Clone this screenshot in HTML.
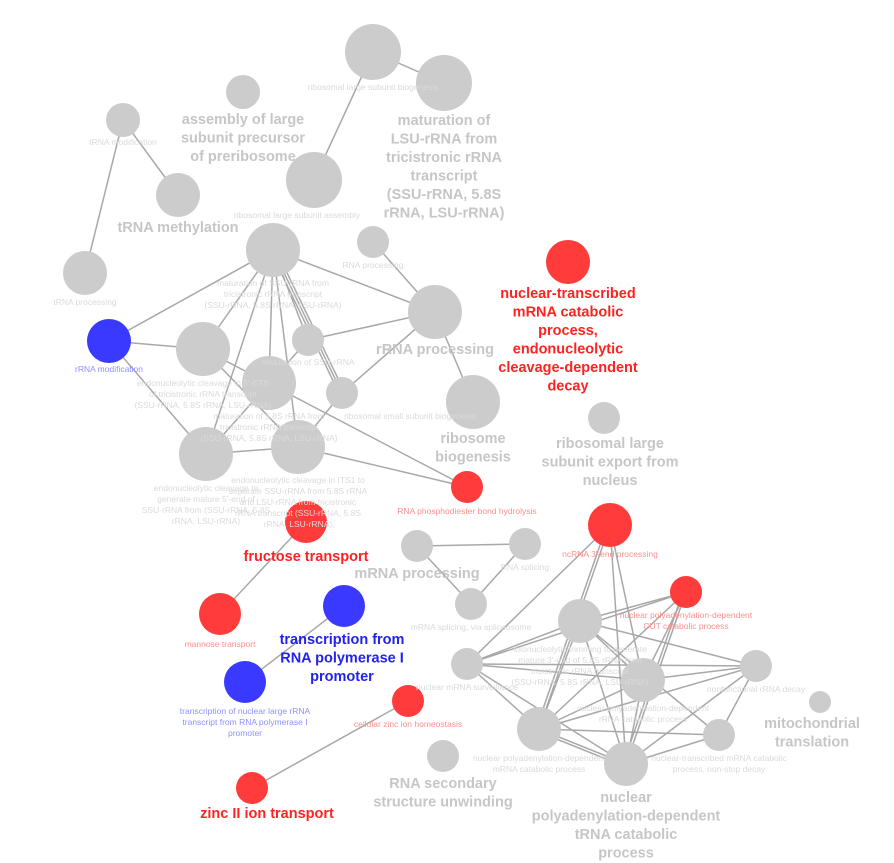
<!DOCTYPE html>
<html><head><meta charset="utf-8"><style>
html,body{margin:0;padding:0;background:#fff;}
svg{display:block;}
.e{stroke:#999;stroke-width:1.5;fill:none;opacity:0.85}
.g{fill:#cccccc}
.r{fill:#ff3b3b}
.b{fill:#3939ff}
text{font-family:"Liberation Sans",sans-serif;text-anchor:middle;}
.s{font-size:8.5px;fill:#dadada}
.sr{font-size:8.5px;fill:#ff8f8f}
.sb{font-size:8.5px;fill:#8f8fff}
.L{font-size:14.5px;font-weight:bold;fill:#c6c6c6}
.LR{font-size:14.5px;font-weight:bold;fill:#ff2222}
.LB{font-size:14.5px;font-weight:bold;fill:#2222ee}
</style></head><body>
<svg width="894" height="863" viewBox="0 0 894 863">
<g class="e">
<line x1="373" y1="52" x2="444" y2="83"/>
<line x1="373" y1="52" x2="314" y2="180"/>
<line x1="123" y1="120" x2="85" y2="273"/>
<line x1="123" y1="120" x2="178" y2="195"/>
<line x1="273" y1="250" x2="435" y2="312"/>
<line x1="273" y1="250" x2="109" y2="341"/>
<line x1="273" y1="250" x2="203" y2="349"/>
<line x1="273" y1="250" x2="206" y2="454"/>
<line x1="273" y1="250" x2="269" y2="383"/>
<line x1="273" y1="250" x2="298" y2="447"/>
<line x1="273" y1="250" x2="308" y2="340"/>
<line x1="273" y1="250" x2="342" y2="393"/>
<line x1="276" y1="250" x2="345" y2="393"/>
<line x1="270" y1="250" x2="339" y2="393"/>
<line x1="373" y1="242" x2="435" y2="312"/>
<line x1="308" y1="340" x2="435" y2="312"/>
<line x1="342" y1="393" x2="435" y2="312"/>
<line x1="435" y1="312" x2="473" y2="402"/>
<line x1="109" y1="341" x2="203" y2="349"/>
<line x1="109" y1="341" x2="206" y2="454"/>
<line x1="203" y1="349" x2="298" y2="447"/>
<line x1="203" y1="349" x2="467" y2="487"/>
<line x1="206" y1="454" x2="298" y2="447"/>
<line x1="206" y1="454" x2="308" y2="340"/>
<line x1="298" y1="447" x2="467" y2="487"/>
<line x1="298" y1="447" x2="342" y2="393"/>
<line x1="306" y1="522" x2="220" y2="614"/>
<line x1="245" y1="682" x2="344" y2="606"/>
<line x1="408" y1="701" x2="252" y2="788"/>
<line x1="417" y1="546" x2="525" y2="544"/>
<line x1="417" y1="546" x2="471" y2="604"/>
<line x1="525" y1="544" x2="471" y2="604"/>
<line x1="610" y1="525" x2="467" y2="664"/>
<line x1="610" y1="525" x2="539" y2="729"/>
<line x1="607" y1="525" x2="536" y2="729"/>
<line x1="610" y1="525" x2="626" y2="764"/>
<line x1="610" y1="525" x2="643" y2="680"/>
<line x1="686" y1="592" x2="467" y2="664"/>
<line x1="686" y1="592" x2="580" y2="621"/>
<line x1="686" y1="592" x2="539" y2="729"/>
<line x1="686" y1="592" x2="626" y2="764"/>
<line x1="683" y1="592" x2="623" y2="764"/>
<line x1="686" y1="592" x2="643" y2="680"/>
<line x1="580" y1="621" x2="756" y2="666"/>
<line x1="580" y1="621" x2="719" y2="735"/>
<line x1="580" y1="621" x2="626" y2="764"/>
<line x1="580" y1="621" x2="539" y2="729"/>
<line x1="580" y1="621" x2="643" y2="680"/>
<line x1="467" y1="664" x2="643" y2="680"/>
<line x1="467" y1="664" x2="756" y2="666"/>
<line x1="467" y1="664" x2="539" y2="729"/>
<line x1="467" y1="664" x2="626" y2="764"/>
<line x1="467" y1="664" x2="580" y2="621"/>
<line x1="643" y1="680" x2="756" y2="666"/>
<line x1="643" y1="680" x2="626" y2="764"/>
<line x1="643" y1="680" x2="539" y2="729"/>
<line x1="756" y1="666" x2="539" y2="729"/>
<line x1="756" y1="666" x2="626" y2="764"/>
<line x1="756" y1="666" x2="719" y2="735"/>
<line x1="539" y1="729" x2="719" y2="735"/>
<line x1="539" y1="729" x2="626" y2="764"/>
<line x1="539" y1="732" x2="626" y2="767"/>
<line x1="719" y1="735" x2="626" y2="764"/>
</g>
<g>
<circle class="g" cx="373" cy="52" r="28"/>
<circle class="g" cx="444" cy="83" r="28"/>
<circle class="g" cx="243" cy="92" r="17"/>
<circle class="g" cx="123" cy="120" r="17"/>
<circle class="g" cx="178" cy="195" r="22"/>
<circle class="g" cx="314" cy="180" r="28"/>
<circle class="g" cx="85" cy="273" r="22"/>
<circle class="g" cx="273" cy="250" r="27"/>
<circle class="g" cx="373" cy="242" r="16"/>
<circle class="g" cx="435" cy="312" r="27"/>
<circle class="g" cx="473" cy="402" r="27"/>
<circle class="b" cx="109" cy="341" r="22"/>
<circle class="g" cx="203" cy="349" r="27"/>
<circle class="g" cx="308" cy="340" r="16"/>
<circle class="g" cx="269" cy="383" r="27"/>
<circle class="g" cx="342" cy="393" r="16"/>
<circle class="g" cx="206" cy="454" r="27"/>
<circle class="g" cx="298" cy="447" r="27"/>
<circle class="r" cx="467" cy="487" r="16"/>
<circle class="r" cx="306" cy="522" r="21"/>
<circle class="r" cx="568" cy="262" r="22"/>
<circle class="g" cx="604" cy="418" r="16"/>
<circle class="g" cx="417" cy="546" r="16"/>
<circle class="g" cx="525" cy="544" r="16"/>
<circle class="g" cx="471" cy="604" r="16"/>
<circle class="r" cx="610" cy="525" r="22"/>
<circle class="r" cx="686" cy="592" r="16"/>
<circle class="g" cx="580" cy="621" r="22"/>
<circle class="g" cx="467" cy="664" r="16"/>
<circle class="g" cx="643" cy="680" r="22"/>
<circle class="g" cx="756" cy="666" r="16"/>
<circle class="g" cx="539" cy="729" r="22"/>
<circle class="g" cx="719" cy="735" r="16"/>
<circle class="g" cx="626" cy="764" r="22"/>
<circle class="g" cx="820" cy="702" r="11"/>
<circle class="b" cx="344" cy="606" r="21"/>
<circle class="r" cx="220" cy="614" r="21"/>
<circle class="b" cx="245" cy="682" r="21"/>
<circle class="r" cx="408" cy="701" r="16"/>
<circle class="r" cx="252" cy="788" r="16"/>
<circle class="g" cx="443" cy="756" r="16"/>
</g>
<!-- small labels -->
<text class="s" x="373" y="90">ribosomal large subunit biogenesis</text>
<text class="s" x="123" y="145">tRNA modification</text>
<text class="s" x="297" y="218">ribosomal large subunit assembly</text>
<text class="s" x="85" y="305">tRNA processing</text>
<text class="s" x="373" y="268">RNA processing</text>
<text class="s"><tspan x="273" y="286">maturation of SSU-rRNA from</tspan><tspan x="273" y="297">tricistronic rRNA transcript</tspan><tspan x="273" y="308">(SSU-rRNA, 5.8S rRNA, LSU-rRNA)</tspan></text>
<text class="sb" x="109" y="372">rRNA modification</text>
<text class="s" x="308" y="365">maturation of SSU-rRNA</text>
<text class="s"><tspan x="203" y="386">endonucleolytic cleavage in 5'-ETS</tspan><tspan x="203" y="397">of tricistronic rRNA transcript</tspan><tspan x="203" y="408">(SSU-rRNA, 5.8S rRNA, LSU-rRNA)</tspan></text>
<text class="s" x="410" y="419">ribosomal small subunit biogenesis</text>
<text class="s"><tspan x="269" y="419">maturation of 5.8S rRNA from</tspan><tspan x="269" y="430">tricistronic rRNA transcript</tspan><tspan x="269" y="441">(SSU-rRNA, 5.8S rRNA, LSU-rRNA)</tspan></text>
<text class="s"><tspan x="206" y="491">endonucleolytic cleavage to</tspan><tspan x="206" y="502">generate mature 5'-end of</tspan><tspan x="206" y="513">SSU-rRNA from (SSU-rRNA, 5.8S</tspan><tspan x="206" y="524">rRNA, LSU-rRNA)</tspan></text>
<text class="s"><tspan x="298" y="483">endonucleolytic cleavage in ITS1 to</tspan><tspan x="298" y="494">separate SSU-rRNA from 5.8S rRNA</tspan><tspan x="298" y="505">and LSU-rRNA from tricistronic</tspan><tspan x="298" y="516">rRNA transcript (SSU-rRNA, 5.8S</tspan><tspan x="298" y="527">rRNA, LSU-rRNA)</tspan></text>
<text class="sr" x="467" y="514">RNA phosphodiester bond hydrolysis</text>
<text class="sr" x="610" y="557">ncRNA 3'-end processing</text>
<text class="s" x="525" y="570">RNA splicing</text>
<text class="s" x="471" y="630">mRNA splicing, via spliceosome</text>
<text class="sr"><tspan x="686" y="618">nuclear polyadenylation-dependent</tspan><tspan x="686" y="629">CUT catabolic process</tspan></text>
<text class="s"><tspan x="580" y="652">exonucleolytic trimming to generate</tspan><tspan x="580" y="663">mature 3'-end of 5.8S rRNA from</tspan><tspan x="580" y="674">tricistronic rRNA transcript</tspan><tspan x="580" y="685">(SSU-rRNA, 5.8S rRNA, LSU-rRNA)</tspan></text>
<text class="s" x="467" y="690">nuclear mRNA surveillance</text>
<text class="s" x="756" y="692">nonfunctional rRNA decay</text>
<text class="s"><tspan x="643" y="711">nuclear polyadenylation-dependent</tspan><tspan x="643" y="722">rRNA catabolic process</tspan></text>
<text class="s"><tspan x="539" y="761">nuclear polyadenylation-dependent</tspan><tspan x="539" y="772">mRNA catabolic process</tspan></text>
<text class="s"><tspan x="719" y="761">nuclear-transcribed mRNA catabolic</tspan><tspan x="719" y="772">process, non-stop decay</tspan></text>
<text class="sr" x="220" y="647">mannose transport</text>
<text class="sb"><tspan x="245" y="714">transcription of nuclear large rRNA</tspan><tspan x="245" y="725">transcript from RNA polymerase I</tspan><tspan x="245" y="736">promoter</tspan></text>
<text class="sr" x="408" y="727">cellular zinc ion homeostasis</text>
<!-- big labels -->
<text class="L"><tspan x="243" y="124">assembly of large</tspan><tspan x="243" y="142.5">subunit precursor</tspan><tspan x="243" y="161">of preribosome</tspan></text>
<text class="L"><tspan x="444" y="125">maturation of</tspan><tspan x="444" y="143.5">LSU-rRNA from</tspan><tspan x="444" y="162">tricistronic rRNA</tspan><tspan x="444" y="180.5">transcript</tspan><tspan x="444" y="199">(SSU-rRNA, 5.8S</tspan><tspan x="444" y="217.5">rRNA, LSU-rRNA)</tspan></text>
<text class="L" x="178" y="232">tRNA methylation</text>
<text class="L" x="435" y="354">rRNA processing</text>
<text class="L"><tspan x="473" y="443">ribosome</tspan><tspan x="473" y="461.5">biogenesis</tspan></text>
<text class="LR"><tspan x="568" y="298">nuclear-transcribed</tspan><tspan x="568" y="316.5">mRNA catabolic</tspan><tspan x="568" y="335">process,</tspan><tspan x="568" y="353.5">endonucleolytic</tspan><tspan x="568" y="372">cleavage-dependent</tspan><tspan x="568" y="390.5">decay</tspan></text>
<text class="L"><tspan x="610" y="448">ribosomal large</tspan><tspan x="610" y="466.5">subunit export from</tspan><tspan x="610" y="485">nucleus</tspan></text>
<text class="LR" x="306" y="561">fructose transport</text>
<text class="L" x="417" y="578">mRNA processing</text>
<text class="LB"><tspan x="342" y="644">transcription from</tspan><tspan x="342" y="662.5">RNA polymerase I</tspan><tspan x="342" y="681">promoter</tspan></text>
<text class="L"><tspan x="812" y="728">mitochondrial</tspan><tspan x="812" y="746.5">translation</tspan></text>
<text class="L"><tspan x="443" y="788">RNA secondary</tspan><tspan x="443" y="806.5">structure unwinding</tspan></text>
<text class="L"><tspan x="626" y="802">nuclear</tspan><tspan x="626" y="820.5">polyadenylation-dependent</tspan><tspan x="626" y="839">tRNA catabolic</tspan><tspan x="626" y="857.5">process</tspan></text>
<text class="LR" x="267" y="818">zinc II ion transport</text>
</svg>
</body></html>
